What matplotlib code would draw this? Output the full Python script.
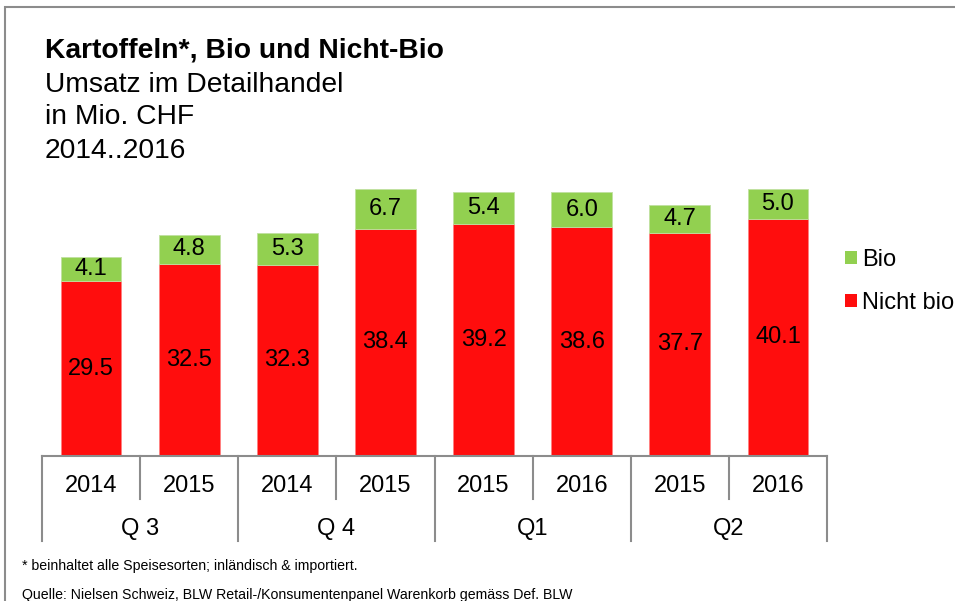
import matplotlib
matplotlib.use("Agg")
import matplotlib.pyplot as plt
from matplotlib.patches import Rectangle, Patch
from matplotlib.transforms import blended_transform_factory

plt.rcParams['font.family'] = ['Liberation Sans', 'DejaVu Sans']

# Data
years = ["2014", "2015", "2014", "2015", "2015", "2016", "2015", "2016"]
quarters = ["Q 3", "Q 4", "Q1", "Q2"]
nicht_bio = [29.5, 32.5, 32.3, 38.4, 39.2, 38.6, 37.7, 40.1]
bio = [4.1, 4.8, 5.3, 6.7, 5.4, 6.0, 4.7, 5.0]

RED = "#FF0D0D"
GREEN = "#92D050"
GRID = "#8C8C8C"

W, H = 955, 601
fig = plt.figure(figsize=(W / 100, H / 100), dpi=100)

# axes placement in pixels
ax_l, ax_r, ax_base, ax_top = 42, 827, 456, 160
ax = fig.add_axes([ax_l / W, (H - ax_base) / H, (ax_r - ax_l) / W, (ax_base - ax_top) / H])
ax_h_px = ax_base - ax_top

x = list(range(len(years)))
bw = 0.62
ax.bar(x, nicht_bio, width=bw, color=RED, edgecolor="#FF8080", linewidth=0.6, label="Nicht bio")
ax.bar(x, bio, width=bw, bottom=nicht_bio, color=GREEN, edgecolor="#C0E0A0", linewidth=0.6, label="Bio")

LBL = 17
for xi, nb, b in zip(x, nicht_bio, bio):
    ax.text(xi, nb / 2, f"{nb:.1f}", ha="center", va="center", fontsize=LBL, color="black")
    ax.text(xi, nb + b / 2, f"{b:.1f}", ha="center", va="center", fontsize=LBL, color="black")

ax.set_xlim(-0.5, len(years) - 0.5)
ax.set_ylim(0, 50)
ax.set_yticks([])
ax.set_xticks([])
for s in ["left", "right", "top"]:
    ax.spines[s].set_visible(False)
ax.spines["bottom"].set_color(GRID)
ax.spines["bottom"].set_linewidth(1.5)

# two-level category axis
tr = blended_transform_factory(ax.transData, ax.transAxes)
short_y = -43 / ax_h_px
long_y = -85 / ax_h_px
for i in range(len(years) + 1):
    xd = i - 0.5
    yend = long_y if i % 2 == 0 else short_y
    ax.plot([xd, xd], [0, yend], transform=tr, color=GRID, lw=1.5, clip_on=False)
for xi, yr in zip(x, years):
    ax.text(xi, -30 / ax_h_px, yr, transform=tr, ha="center", va="center", fontsize=LBL)
for qi, q in enumerate(quarters):
    ax.text(2 * qi + 0.5, -73 / ax_h_px, q, transform=tr, ha="center", va="center", fontsize=LBL)

# legend
handles = [Patch(facecolor=GREEN, label="Bio"), Patch(facecolor=RED, label="Nicht bio")]
fig.legend(handles=handles, loc="upper left", bbox_to_anchor=(845 / W, (H - 249) / H),
           frameon=False, fontsize=17, handlelength=0.5, handleheight=0.5,
           handletextpad=0.22, labelspacing=0.88, borderpad=0, borderaxespad=0)

# titles
TFS = 20.3
fig.text(45 / W, (H - 57) / H, "Kartoffeln*, Bio und Nicht-Bio", fontsize=TFS, fontweight="bold", va="baseline")
fig.text(45 / W, (H - 92) / H, "Umsatz im Detailhandel", fontsize=TFS, va="baseline")
fig.text(45 / W, (H - 124) / H, "in Mio. CHF", fontsize=TFS, va="baseline")
fig.text(45 / W, (H - 158) / H, "2014..2016", fontsize=TFS, va="baseline")

# footnotes
fig.text(22 / W, (H - 570) / H, "* beinhaltet alle Speisesorten; inländisch & importiert.", fontsize=10.2, va="baseline")
fig.text(22 / W, (H - 599) / H, "Quelle: Nielsen Schweiz, BLW Retail-/Konsumentenpanel Warenkorb gemäss Def. BLW",
         fontsize=10.2, va="baseline")

# outer frame
fig.patches.append(Rectangle((5 / W, -0.1), 1.2, (H - 7) / H + 0.1, transform=fig.transFigure,
                             fill=False, edgecolor=GRID, linewidth=1.5))

fig.savefig("out.png", dpi=100)
